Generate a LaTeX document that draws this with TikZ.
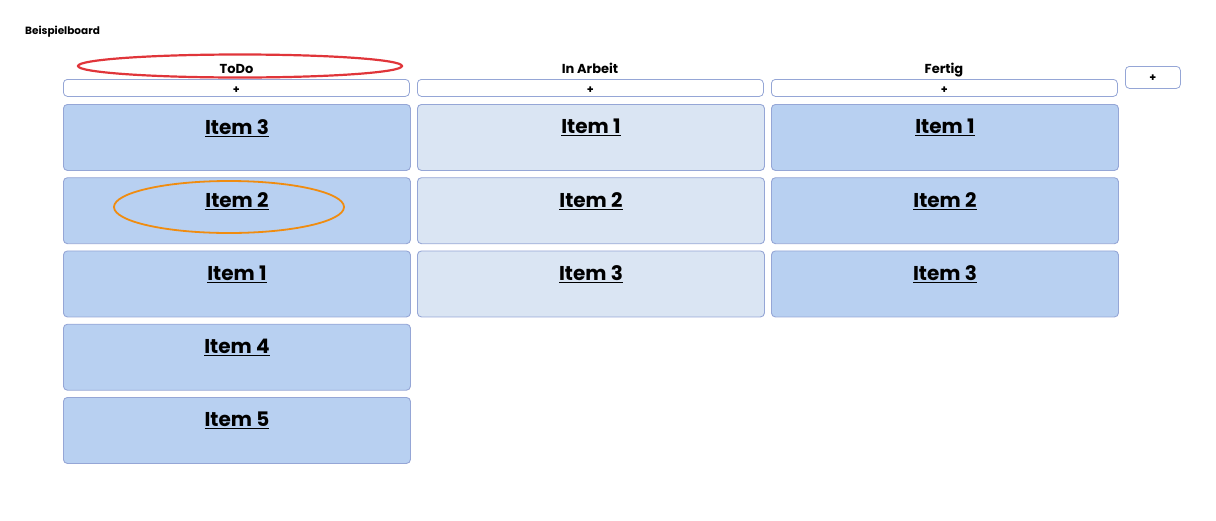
\documentclass[tikz,border=0pt]{standalone}
\usepackage{fontspec}
\setmainfont{Poppins}
\usetikzlibrary{positioning}
\definecolor{cardA}{HTML}{B8D0F1}
\definecolor{cardB}{HTML}{DAE5F3}
\definecolor{cardline}{HTML}{95A6D6}
\definecolor{redmark}{HTML}{E0353A}
\definecolor{orangemark}{HTML}{F08C10}
\tikzset{
  card/.style={draw=cardline, line width=0.9pt, rounded corners=4pt, minimum width=347pt, minimum height=66pt, anchor=north west},
  cardA/.style={card, fill=cardA},
  cardB/.style={card, fill=cardB},
  itemtext/.style={anchor=north, font=\fontsize{20}{21}\selectfont\bfseries, inner sep=0pt},
  plusbar/.style={draw=cardline, line width=0.8pt, fill=white, rounded corners=4pt, minimum width=346pt, minimum height=17pt, anchor=north west, inner sep=0pt},
  plustext/.style={font=\fontsize{11}{12}\selectfont\bfseries, inner sep=0pt},
  colhead/.style={font=\fontsize{13}{14}\selectfont\bfseries, inner sep=0pt, anchor=base},
}
\newcommand{\itm}[1]{\underline{#1}}
\begin{document}
\begin{tikzpicture}[x=1pt,y=-1pt]
\useasboundingbox (0,0) rectangle (1216,520);
\node[anchor=base west, font=\fontsize{10.5}{11}\selectfont\bfseries, inner sep=0pt] (title) at (25,34) {Beispielboard};
% headers
\node[colhead] (h1) at (236.5,73) {ToDo};
\node[colhead] (h2) at (590,73) {In Arbeit};
\node[colhead] (h3) at (944,73) {Fertig};
% plus bars
\node[plusbar] (p1) at (63,79) {};
\node[plustext] at ([yshift=-2pt]p1.center) {+};
\node[plusbar] (p2) at (417,79) {};
\node[plustext] at ([yshift=-2pt]p2.center) {+};
\node[plusbar] (p3) at (771,79) {};
\node[plustext] at ([yshift=-2pt]p3.center) {+};
\node[draw=cardline, line width=0.8pt, fill=white, rounded corners=4pt, minimum width=55pt, minimum height=22pt, anchor=north west, inner sep=0pt] (padd) at (1125,66) {};
\node[plustext] at ([yshift=-1pt]padd.center) {+};
% column 1
\foreach \n/\t [count=\i from 0] in {a/Item 3,b/Item 2,c/Item 1,d/Item 4,e/Item 5}{
  \node[cardA] (c1\n) at (63,{104+73.25*\i}) {};
  \node[itemtext] at ([yshift=-15pt]c1\n.north) {\itm{\t}};
}
\foreach \n/\t [count=\i from 0] in {a/Item 1,b/Item 2,c/Item 3}{
  \node[cardB] (c2\n) at (417,{104+73.25*\i}) {};
  \node[itemtext] at ([yshift=-15pt]c2\n.north) {\itm{\t}};
  \node[cardA] (c3\n) at (771,{104+73.25*\i}) {};
  \node[itemtext] at ([yshift=-15pt]c3\n.north) {\itm{\t}};
}
% marks
\draw[redmark, line width=2.2pt] (240,66) ellipse [x radius=162, y radius=11.5];
\draw[orangemark, line width=1.8pt] (229,207) ellipse [x radius=115, y radius=26];
\end{tikzpicture}
\end{document}
